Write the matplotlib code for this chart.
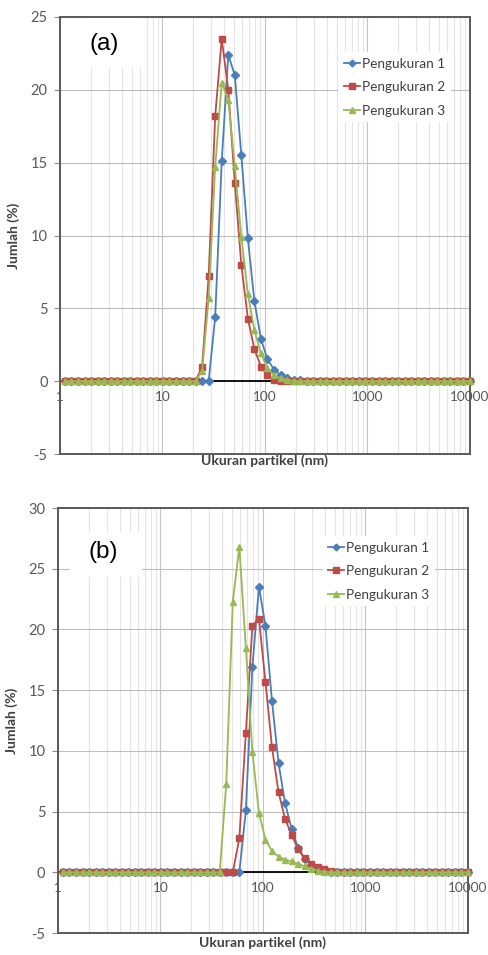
import numpy as np
import matplotlib
matplotlib.use('Agg')
import matplotlib.pyplot as plt
from matplotlib.ticker import LogLocator, NullFormatter, FixedLocator
from matplotlib.patches import Rectangle
from matplotlib import transforms

# particle size bins (nm)
sizes = [1.117, 1.294, 1.499, 1.736, 2.010, 2.328, 2.696, 3.122, 3.615, 4.187,
         4.849, 5.615, 6.503, 7.531, 8.721, 10.10, 11.70, 13.54, 15.69, 18.17,
         21.04, 24.36, 28.21, 32.67, 37.84, 43.82, 50.75, 58.77, 68.06, 78.82,
         91.28, 105.7, 122.4, 141.8, 164.2, 190.1, 220.2, 255.0, 295.3, 342.0,
         396.1, 458.7, 531.2, 615.1, 712.4, 825.0, 955.4, 1106, 1281, 1484,
         1718, 1990, 2305, 2669, 3091, 3580, 4145, 4801, 5560, 6439,
         7456, 8635, 10000]

# panel (a)
a_p1 = [0, 0, 0, 0, 0, 0, 0, 0, 0, 0,
        0, 0, 0, 0, 0, 0, 0, 0, 0, 0,
        0, 0, 0, 4.4, 15.1, 22.4, 21.0, 15.5, 9.8, 5.5,
        2.9, 1.5, 0.8, 0.4, 0.2, 0.1, 0.05, 0, 0, 0,
        0, 0, 0, 0, 0, 0, 0, 0, 0, 0,
        0, 0, 0, 0, 0, 0, 0, 0, 0, 0,
        0, 0, 0]
a_p2 = [0, 0, 0, 0, 0, 0, 0, 0, 0, 0,
        0, 0, 0, 0, 0, 0, 0, 0, 0, 0,
        0, 1.0, 7.2, 18.2, 23.5, 20.0, 13.6, 8.0, 4.3, 2.2,
        1.0, 0.4, 0.1, 0, 0, 0, 0, 0, 0, 0,
        0, 0, 0, 0, 0, 0, 0, 0, 0, 0,
        0, 0, 0, 0, 0, 0, 0, 0, 0, 0,
        0, 0, 0]
a_p3 = [0, 0, 0, 0, 0, 0, 0, 0, 0, 0,
        0, 0, 0, 0, 0, 0, 0, 0, 0, 0,
        0, 0.7, 5.7, 14.7, 20.5, 19.3, 14.8, 9.9, 6.0, 3.5,
        1.9, 0.9, 0.4, 0.2, 0.1, 0, 0, 0, 0, 0,
        0, 0, 0, 0, 0, 0, 0, 0, 0, 0,
        0, 0, 0, 0, 0, 0, 0, 0, 0, 0,
        0, 0, 0]

# panel (b)
b_p1 = [0, 0, 0, 0, 0, 0, 0, 0, 0, 0,
        0, 0, 0, 0, 0, 0, 0, 0, 0, 0,
        0, 0, 0, 0, 0, 0, 0, 0, 5.1, 16.9,
        23.5, 20.3, 14.1, 9.0, 5.7, 3.6, 2.0, 1.1, 0.6, 0.3,
        0.15, 0.05, 0, 0, 0, 0, 0, 0, 0, 0,
        0, 0, 0, 0, 0, 0, 0, 0, 0, 0,
        0, 0, 0]
b_p2 = [0, 0, 0, 0, 0, 0, 0, 0, 0, 0,
        0, 0, 0, 0, 0, 0, 0, 0, 0, 0,
        0, 0, 0, 0, 0, 0, 0, 2.8, 11.5, 20.3,
        20.9, 15.7, 10.3, 6.6, 4.4, 3.1, 1.9, 1.15, 0.65, 0.4,
        0.25, 0.1, 0.05, 0, 0, 0, 0, 0, 0, 0,
        0, 0, 0, 0, 0, 0, 0, 0, 0, 0,
        0, 0, 0]
b_p3 = [0, 0, 0, 0, 0, 0, 0, 0, 0, 0,
        0, 0, 0, 0, 0, 0, 0, 0, 0, 0,
        0, 0, 0, 0, 0, 7.3, 22.3, 26.8, 18.5, 9.9,
        4.9, 2.7, 1.75, 1.3, 1.05, 0.9, 0.7, 0.5, 0.3, 0.1,
        0.05, 0, 0, 0, 0, 0, 0, 0, 0, 0,
        0, 0, 0, 0, 0, 0, 0, 0, 0, 0,
        0, 0, 0]

labels = ['Pengukuran 1', 'Pengukuran 2', 'Pengukuran 3']
colors = ['#4A7EBB', '#BE4B48', '#98B954']
markers = ['D', 's', '^']
msizes = [4.3, 4.8, 5.0]
x_ticks = [1, 10, 100, 1000, 10000]
x_ticklabels = ['1', '10', '100', '1000', '10000']

plt.rcParams['font.family'] = ['Lato', 'DejaVu Sans']
plt.rcParams['axes.unicode_minus'] = False

fig = plt.figure(figsize=(4.89, 9.55), dpi=100)


def draw_panel(rect, series, ymax, letter, box, letter_pos, leg_anchor, xlabel_y):
    ax = fig.add_axes(rect)
    ax.set_xscale('log')
    ax.set_xlim(1, 10000)
    ax.set_ylim(-5, ymax)
    ax.set_yticks(np.arange(-5, ymax + 1, 5))

    ax.xaxis.set_major_locator(FixedLocator(x_ticks))
    ax.xaxis.set_minor_locator(LogLocator(base=10, subs=np.arange(2, 10)))
    ax.xaxis.set_minor_formatter(NullFormatter())
    ax.tick_params(axis='x', which='both', length=0, labelbottom=False)
    ax.grid(True, which='major', axis='x', color='#c4c4c4', lw=0.8)
    ax.grid(True, which='minor', axis='x', color='#e4e4e4', lw=0.8)
    ax.grid(True, which='major', axis='y', color='#bdbdbd', lw=0.8)
    ax.set_axisbelow(True)

    ax.tick_params(axis='y', length=4, width=0.8, color='#8a8a8a',
                   labelsize=10.5, labelcolor='#595959', pad=5)
    for s in ax.spines.values():
        s.set_color('#5a5a5a')
        s.set_linewidth(1.4)

    # x axis crossing at 0
    ax.axhline(0, color='black', lw=1.3, zorder=1.5)
    trans = transforms.offset_copy(ax.transData, fig=fig, y=-16, units='dots')
    for t, tl in zip(x_ticks, x_ticklabels):
        ax.text(t, 0, tl, transform=trans, ha='center', va='center',
                fontsize=9.8, color='#595959', clip_on=False)

    for ys, lab, c, m, ms in zip(series, labels, colors, markers, msizes):
        ax.plot(sizes, ys, color=c, lw=1.3, marker=m, markersize=ms,
                markeredgecolor=c, label=lab, clip_on=False, zorder=3)

    leg = ax.legend(loc='upper left', bbox_to_anchor=leg_anchor, fontsize=9.8,
                    frameon=True, fancybox=False, handlelength=1.2,
                    handletextpad=0.15, labelspacing=0.85, borderpad=0.4,
                    markerscale=0.8)
    leg.get_frame().set_facecolor('white')
    leg.get_frame().set_edgecolor('none')
    leg.get_frame().set_alpha(1)
    for t in leg.get_texts():
        t.set_color('#404040')

    # white box behind the panel letter
    ax.add_patch(Rectangle((box[0], box[1]), box[2], box[3], transform=ax.transAxes,
                           facecolor='white', edgecolor='none', zorder=2))
    ax.text(letter_pos[0], letter_pos[1], letter, transform=ax.transAxes,
            fontsize=17.5, family='Liberation Sans', ha='left', va='center',
            color='black', zorder=4)

    ax.set_ylabel('Jumlah (%)', fontsize=10, fontweight='bold', color='#404040')
    ax.set_xlabel('Ukuran partikel (nm)', fontsize=10, fontweight='bold', color='#404040')
    ax.yaxis.set_label_coords(-0.097, 0.5)
    ax.xaxis.set_label_coords(0.5, xlabel_y)
    return ax


draw_panel([0.1227, 0.5246, 0.8384, 0.4576], [a_p1, a_p2, a_p3], 25, '(a)',
           (0.061, 0.883, 0.141, 0.117), (0.073, 0.938), (0.662, 0.935), 0.0)
draw_panel([0.1186, 0.0230, 0.8384, 0.4450], [b_p1, b_p2, b_p3], 30, '(b)',
           (0.029, 0.838, 0.176, 0.106), (0.075, 0.896), (0.629, 0.95), -0.008)

fig.savefig('out.png', dpi=100)
